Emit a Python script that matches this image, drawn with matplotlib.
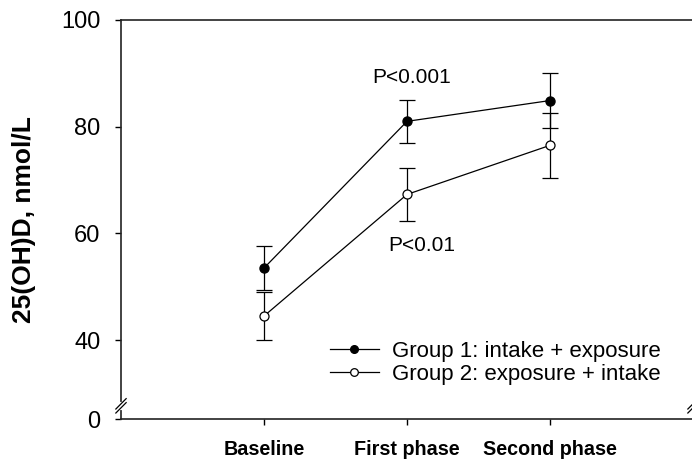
import matplotlib
matplotlib.use("Agg")
from matplotlib import pyplot as plt
from matplotlib.lines import Line2D

plt.rcParams['font.family'] = ['Liberation Sans', 'DejaVu Sans']

phases = ["Baseline", "First phase", "Second phase"]
group1_mean = [53.5, 81.0, 84.9]
group1_err = [4.2, 4.0, 5.1]
group2_mean = [44.5, 67.3, 76.5]
group2_err = [4.5, 4.9, 6.1]
group1_label = "Group 1: intake + exposure"
group2_label = "Group 2: exposure + intake"
y_ticks = [40, 60, 80, 100]
# the axis is broken below 40; zero is drawn at this height
zero_at = 25.2

x = list(range(1, len(phases) + 1))

fig = plt.figure(figsize=(6.92, 4.62), dpi=100)
ax = fig.add_axes([121 / 692, 43 / 462, 572 / 692, 399 / 462])

err_style = dict(ecolor="black", elinewidth=0.9, capsize=5.5, capthick=0.9)
ax.errorbar(x, group1_mean, yerr=group1_err, color="black", lw=0.9,
            marker="o", ms=6.5, mfc="black", mec="black", **err_style)
ax.errorbar(x, group2_mean, yerr=group2_err, color="black", lw=0.9,
            marker="o", ms=6.5, mfc="white", mec="black", mew=0.9,
            **err_style)

ax.text(2.03, 89.3, "P<0.001", ha="center", va="center", fontsize=15)
ax.text(2.10, 57.7, "P<0.01", ha="center", va="center", fontsize=15)

ax.set_xlim(0, 4)
ax.set_ylim(zero_at, 99.7)
ax.set_xticks(x)
ax.set_xticklabels(phases, fontweight="bold", fontsize=14.2)
ax.set_yticks([zero_at] + y_ticks)
ax.set_yticklabels(["0"] + [str(t) for t in y_ticks], fontsize=17)
ax.tick_params(axis="y", direction="out", length=4.3, width=1, pad=10.5)
ax.tick_params(axis="x", direction="out", length=4.3, width=1, pad=11)

ax.spines["right"].set_visible(False)
for s in ("left", "top", "bottom"):
    ax.spines[s].set_linewidth(1.2)
    ax.spines[s].set_color("#222222")

ax.set_ylabel("25(OH)D, nmol/L", fontweight="bold", fontsize=19)
ax.yaxis.set_label_coords(-0.148, 0.5)

# axis break marks on both sides
by, dx, dy, gap = 0.033, 0.009, 0.013, 0.005
for xa in (0, 1):
    ax.plot([xa, xa], [by - gap, by + gap], transform=ax.transAxes,
            color="white", lw=3, clip_on=False, zorder=5)
    for off in (-gap, gap):
        ax.plot([xa - dx, xa + dx], [by + off - dy, by + off + dy],
                transform=ax.transAxes, color="black", lw=0.9,
                clip_on=False, zorder=6)

handles = [
    Line2D([], [], color="black", lw=0.9, marker="o", ms=5.5,
           mfc="black", mec="black", label=group1_label),
    Line2D([], [], color="black", lw=0.9, marker="o", ms=5.5,
           mfc="white", mec="black", mew=0.9, label=group2_label),
]
ax.legend(handles=handles, loc="center left",
          bbox_to_anchor=((330 - 121) / 572, 0.14),
          frameon=False, fontsize=16, handlelength=2.2, handletextpad=0.6,
          labelspacing=0.1, borderpad=0, borderaxespad=0)

fig.savefig("out.png", dpi=100)
